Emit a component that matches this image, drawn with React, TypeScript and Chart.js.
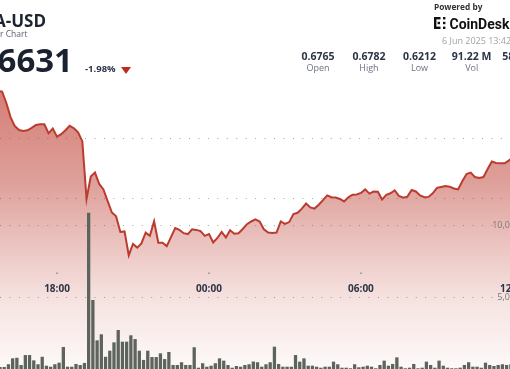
import React, { useEffect, useRef } from 'react';
import { Chart, registerables } from 'chart.js';

Chart.register(...registerables);

// Time is in minutes relative to 00:00 on 6 Jun 2025 (negative = 5 Jun)
const X_MIN = -495;
const X_MAX = 713;
const LINE_START = -500;
const BAR_START = -495;
const STEP = 10;

const prices = [
  0.676, 0.6758, 0.672, 0.6673, 0.6643, 0.663, 0.6627, 0.6629, 0.6637, 0.6647,
  0.6649, 0.6649, 0.6619, 0.6635, 0.6608, 0.6616, 0.6629, 0.6644, 0.6636, 0.6622,
  0.6592, 0.64, 0.6475, 0.6488, 0.645, 0.6432, 0.6393, 0.6355, 0.6342, 0.629,
  0.6292, 0.6212, 0.625, 0.6238, 0.6252, 0.6288, 0.6277, 0.6326, 0.6254, 0.6254,
  0.6243, 0.6273, 0.6303, 0.6297, 0.6286, 0.6283, 0.6299, 0.6297, 0.6293, 0.6277,
  0.6283, 0.6255, 0.627, 0.629, 0.6272, 0.6296, 0.6284, 0.6286, 0.63, 0.6316,
  0.6325, 0.6332, 0.6325, 0.6299, 0.6288, 0.6287, 0.6288, 0.6325, 0.6317, 0.6323,
  0.635, 0.6354, 0.6368, 0.6385, 0.6372, 0.6368, 0.6381, 0.6396, 0.6412, 0.6406,
  0.6405, 0.64, 0.6392, 0.6406, 0.6414, 0.6415, 0.642, 0.6432, 0.6418, 0.6425,
  0.6424, 0.6398, 0.6414, 0.6419, 0.6429, 0.641, 0.6404, 0.6408, 0.643, 0.6425,
  0.6412, 0.6406, 0.6407, 0.6419, 0.6437, 0.644, 0.6443, 0.6441, 0.6435, 0.6432,
  0.6459, 0.6483, 0.6488, 0.6473, 0.647, 0.6473, 0.65, 0.6525, 0.652, 0.6519,
  0.6519, 0.6528, 0.654,
];

// volume in millions
const volumesM = [
  0.14, 0.14, 0.33, 0.74, 0.78, 0.28, 0.97, 0.97, 0.6, 0.33,
  0.85, 0.23, 0.16, 0.33, 0.44, 1.53, 0.16, 0.16, 0.35, 0.28,
  0.42, 10.85, 4.79, 1.99, 2.41, 0.85, 1.27, 1.85, 2.71, 1.9,
  1.9, 2.34, 2.08, 1.27, 0.63, 1.27, 0.83, 0.83, 1.09, 0.69,
  1.18, 0.28, 0.28, 0.47, 0.28, 0.28, 1.51, 0.09, 0.4, 0.16,
  0.23, 0.4, 0.74, 0.58, 0.28, 0.09, 0.21, 0.16, 0.28, 0.33,
  0.52, 0.47, 0.16, 0.33, 0.47, 1.55, 0.35, 0.16, 0.16, 0.16,
  0.97, 0.51, 0.74, 0.23, 0.23, 0.16, 0.09, 0.16, 0.16, 0.51,
  0.33, 0.09, 0.09, 0.05, 0.33, 0.12, 0.16, 0.23, 0.16, 0.05,
  0.28, 0.58, 0.23, 0.35, 0.81, 0.16, 0.05, 0.09, 0.35, 0.05,
  0.09, 0.51, 0.28, 0.09, 0.58, 0.23, 0.09, 0.05, 0.05, 0.09,
  0.28, 0.47, 0.16, 0.16, 0.09, 0.44, 0.28, 0.21, 0.28, 0.33,
  0.28, 0.33,
];

const timeTicks = [-360, 0, 360, 720];
const timeTickLabels = ['18:00', '00:00', '06:00', '12:00'];
const priceGrid = [0.64, 0.66];
const PRICE_MIN = 0.58333;
const PRICE_MAX = 0.70633;
const volumeGridM = [5, 10];
const volumeGridLabels = ['5,000,000', '10,000,000'];
const VOL_MAX = 25.625;

const symbol = 'ADA-USD';
const subtitle = '24 Hour Chart';
const lastPrice = '0.6631';
const change = '-1.98%';
const stamp = '6 Jun 2025 13:42';
const statValues = ['0.6765', '0.6782', '0.6212', '91.22 M', '58.41 M'];
const statLabels = ['Open', 'High', 'Low', 'Vol', 'Value'];

const FONT = '"Open Sans", "Noto Sans", sans-serif';

export default function App() {
  const ref = useRef<HTMLCanvasElement>(null);

  useEffect(() => {
    const canvas = ref.current;
    if (!canvas) return;
    const linePts = prices.map((p, i) => ({ x: LINE_START + i * STEP, y: p }));
    const barPts = volumesM.map((v, i) => ({ x: BAR_START + i * STEP, y: v }));

    const overlay = {
      id: 'overlay',
      afterDatasetsDraw(chart: any) {
        const { ctx, chartArea } = chart;
        const xs = chart.scales.x;
        const vs = chart.scales.vol;
        ctx.save();
        ctx.textAlign = 'center';
        ctx.textBaseline = 'alphabetic';
        timeTicks.forEach((t, i) => {
          const px = xs.getPixelForValue(t);
          ctx.fillStyle = '#8e8e8e';
          ctx.fillRect(px - 0.75, 272.5, 1.5, 1.5);
          ctx.fillStyle = '#2d3546';
          ctx.font = `bold 10px ${FONT}`;
          ctx.fillText(timeTickLabels[i], px, 292);
        });
        ctx.textAlign = 'right';
        ctx.font = `9px ${FONT}`;
        ctx.fillStyle = '#7a7a7a';
        volumeGridM.forEach((v, i) => {
          const py = vs.getPixelForValue(v);
          ctx.fillText(volumeGridLabels[i], chartArea.right + 28, py + 3.2);
        });
        ctx.restore();
      },
    };

    const gridScale = (values: number[], min: number, max: number, pos: string) => ({
      type: 'linear',
      position: pos,
      min,
      max,
      afterBuildTicks: (s: any) => {
        s.ticks = values.map((v) => ({ value: v }));
      },
      afterFit: (s: any) => {
        s.width = 0;
      },
      ticks: { display: false },
      grid: { color: '#a2a2a2', lineWidth: 1, drawTicks: false },
      border: { display: false, dash: [1, 8.45] },
    });

    const chart = new Chart(canvas, {
      type: 'line',
      data: {
        datasets: [
          {
            type: 'line',
            data: linePts,
            yAxisID: 'y',
            borderColor: '#bb3b2f',
            borderWidth: 2,
            pointRadius: 0,
            tension: 0,
            fill: 'start',
            order: 0,
            backgroundColor: (c: any) => {
              const ch = c.chart;
              const area = ch.chartArea;
              if (!area) return 'rgba(192,64,52,0.4)';
              const g = ch.ctx.createLinearGradient(0, area.top, 0, area.bottom);
              g.addColorStop(0, 'rgba(190,64,52,0.72)');
              g.addColorStop(0.23, 'rgba(190,64,52,0.68)');
              g.addColorStop(0.49, 'rgba(190,64,52,0.5)');
              g.addColorStop(0.68, 'rgba(190,64,52,0.29)');
              g.addColorStop(0.82, 'rgba(190,64,52,0.14)');
              g.addColorStop(1, 'rgba(190,64,52,0.03)');
              return g;
            },
          } as any,
          {
            type: 'bar',
            data: barPts,
            yAxisID: 'vol',
            backgroundColor: '#5d635d',
            barPercentage: 1,
            categoryPercentage: 0.78,
            order: 1,
          } as any,
        ],
      },
      options: {
        animation: false,
        responsive: true,
        maintainAspectRatio: false,
        events: [],
        layout: { padding: 0, autoPadding: false } as any,
        plugins: {
          legend: { display: false },
          tooltip: { enabled: false },
          filler: { drawTime: 'beforeDatasetsDraw' } as any,
        },
        scales: {
          x: { type: 'linear', min: X_MIN, max: X_MAX, display: false, offset: false } as any,
          y: gridScale(priceGrid, PRICE_MIN, PRICE_MAX, 'left') as any,
          vol: gridScale(volumeGridM, 0, VOL_MAX, 'right') as any,
        },
      },
      plugins: [overlay],
    });
    return () => chart.destroy();
  }, []);

  const abs = (extra: React.CSSProperties): React.CSSProperties => ({
    position: 'absolute',
    whiteSpace: 'nowrap',
    fontFamily: FONT,
    ...extra,
  });

  const centers = [318, 369, 419.5, 471.7, 522];

  return (
    <div
      style={{
        position: 'fixed',
        left: 0,
        top: 0,
        width: 510,
        height: 369,
        overflow: 'hidden',
        background: '#ffffff',
      }}
    >
      <div style={{ position: 'absolute', left: 0, top: 0, width: 510, height: 369 }}>
        <canvas ref={ref} />
      </div>

      <div style={abs({ right: 464, top: 11.9, fontSize: 17, lineHeight: '17px', fontWeight: 700, color: '#1c2431' })}>
        {symbol}
      </div>
      <div style={abs({ right: 482.5, top: 29.5, fontSize: 8.5, lineHeight: '8.5px', color: '#5a6170' })}>
        {subtitle}
      </div>
      <div style={abs({ right: 437, top: 42.7, fontSize: 33, lineHeight: '33px', fontWeight: 700, color: '#1a2230' })}>
        {lastPrice}
      </div>
      <div style={abs({ left: 85, top: 64.3, fontSize: 9.5, lineHeight: '9.5px', fontWeight: 700, color: '#2b3445' })}>
        {change}
      </div>
      <div
        style={{
          position: 'absolute',
          left: 120.7,
          top: 66.7,
          width: 0,
          height: 0,
          borderLeft: '5.5px solid transparent',
          borderRight: '5.5px solid transparent',
          borderTop: '7.5px solid #bf2a1e',
        }}
      />

      <div style={abs({ left: 434, top: 3, fontSize: 8.3, lineHeight: '8.3px', fontWeight: 700, color: '#333333' })}>
        Powered by
      </div>
      <svg style={{ position: 'absolute', left: 434, top: 17 }} width={13} height={12} viewBox="0 0 13 12">
        <rect x={0} y={0} width={2.4} height={12} fill="#111" />
        <rect x={0} y={0} width={6.5} height={2.4} fill="#111" />
        <rect x={0} y={9.6} width={6.5} height={2.4} fill="#111" />
        <rect x={3.6} y={4.8} width={2.4} height={2.4} fill="#111" />
        <rect x={9} y={0} width={2.4} height={2.4} fill="#111" />
        <rect x={9} y={4.8} width={2.4} height={2.4} fill="#111" />
        <rect x={9} y={9.6} width={2.4} height={2.4} fill="#111" />
      </svg>
      <div style={abs({ left: 449.5, top: 17.2, fontSize: 14, lineHeight: '14px', fontWeight: 700, color: '#111111', fontFamily: 'Roboto, sans-serif' })}>
        CoinDesk
      </div>
      <div style={abs({ left: 442, top: 36, fontSize: 9, lineHeight: '9px', color: '#a3a3a3' })}>
        {stamp}
      </div>

      {statValues.map((v, i) => (
        <div
          key={'v' + i}
          style={abs({
            left: centers[i] - 30,
            width: 60,
            textAlign: 'center',
            top: 50.7,
            fontSize: 10.5,
            lineHeight: '10.5px',
            fontWeight: 700,
            color: '#2b3445',
          })}
        >
          {v}
        </div>
      ))}
      {statLabels.map((l, i) => (
        <div
          key={'l' + i}
          style={abs({
            left: centers[i] - 30,
            width: 60,
            textAlign: 'center',
            top: 63,
            fontSize: 9,
            lineHeight: '9px',
            color: '#6b7280',
          })}
        >
          {l}
        </div>
      ))}
    </div>
  );
}
